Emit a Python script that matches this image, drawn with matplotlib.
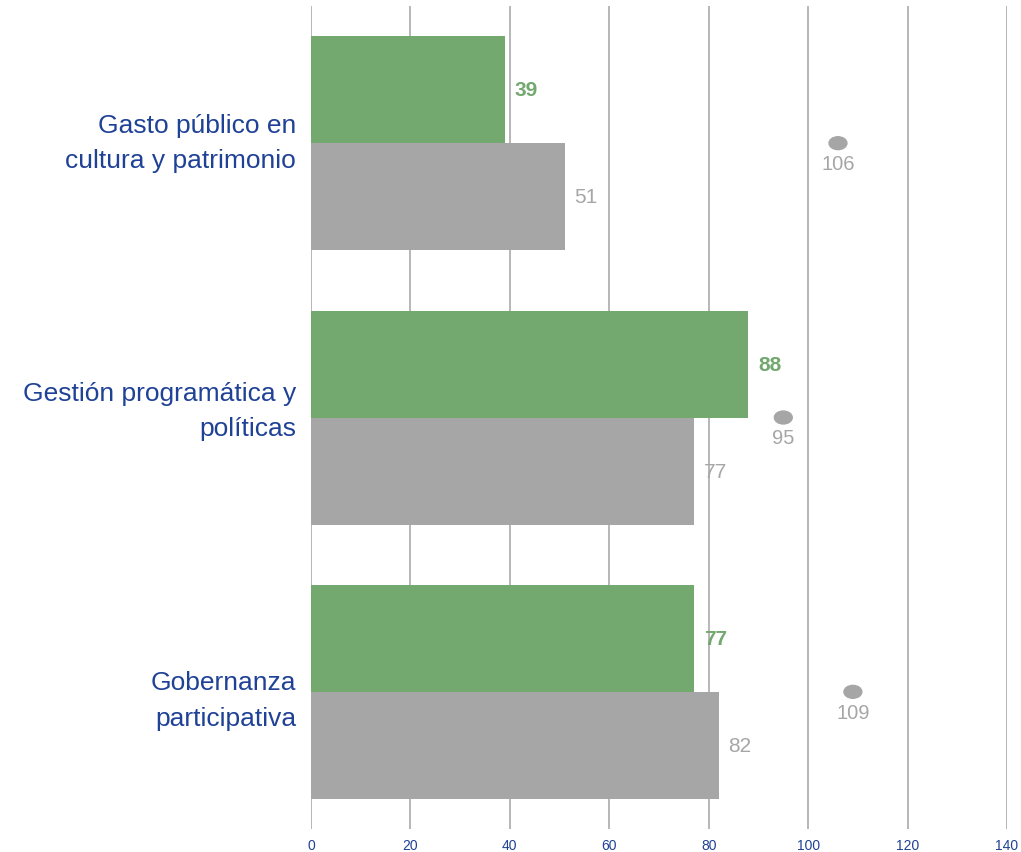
import matplotlib.pyplot as plt
from matplotlib.patches import Ellipse

# Data
categories = ["Gasto público en\ncultura y patrimonio",
              "Gestión programática y\npolíticas",
              "Gobernanza\nparticipativa"]
green_vals = [39, 88, 77]
grey_vals = [51, 77, 82]
dot_vals = [106, 95, 109]

GREEN = "#73a86f"
GREY = "#a6a6a6"
BLUE = "#1f4196"

plt.rcParams['font.family'] = ['Liberation Sans', 'DejaVu Sans']

fig = plt.figure(figsize=(10.21, 8.53), dpi=100)
ax = fig.add_axes([0.3046, 0.02696, 0.6817, 0.9648])

pos = list(range(len(categories)))
h = 0.39

ax.barh([p - h / 2 for p in pos], green_vals, height=h, color=GREEN, zorder=3)
ax.barh([p + h / 2 for p in pos], grey_vals, height=h, color=GREY, zorder=3)

for p, g, r, d in zip(pos, green_vals, grey_vals, dot_vals):
    ax.text(g + 2, p - h / 2, str(g), color=GREEN, fontsize=15, fontweight="bold",
            va="center", ha="left", zorder=4)
    ax.text(r + 2, p + h / 2, str(r), color=GREY, fontsize=15,
            va="center", ha="left", zorder=4)
    ax.add_patch(Ellipse((d, p), width=3.6, height=0.047, color=GREY, zorder=4))
    ax.text(d, p + 0.074, str(d), color=GREY, fontsize=14.5,
            va="center", ha="center", zorder=4)

# category labels (slightly raised like the original layout)
label_shift = [0.033, 0.055, 0.0]
for p, cat, sh in zip(pos, categories, label_shift):
    ax.text(-0.0216, p - sh, cat, transform=ax.get_yaxis_transform(),
            ha="right", va="center_baseline", fontsize=19, color=BLUE,
            linespacing=1.6, multialignment="right")

ax.set_xlim(0, 140)
ax.set_ylim(2.5, -0.5)
ax.set_xticks(range(0, 141, 20))
ax.set_yticks([])
ax.tick_params(axis="x", length=0, pad=6.5, labelsize=10, labelcolor=BLUE)
ax.grid(axis="x", color="#b7b7b7", linewidth=1.4, zorder=0)
for s in ax.spines.values():
    s.set_visible(False)

fig.savefig("out.png", dpi=100)
